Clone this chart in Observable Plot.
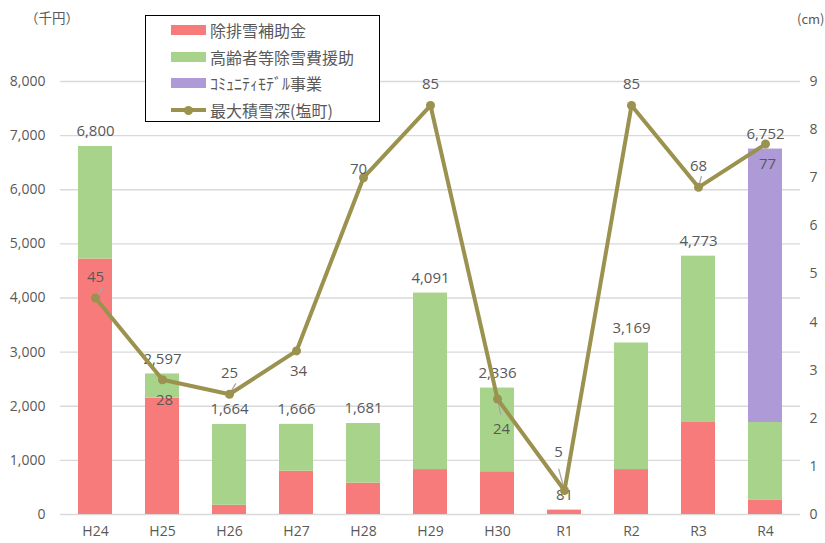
<!DOCTYPE html>
<html>
<head>
<meta charset="utf-8">
<script src="https://cdn.jsdelivr.net/npm/d3@7"></script>
<script src="https://cdn.jsdelivr.net/npm/@observablehq/plot@0.6"></script>
<style>
  body { margin: 0; background: #fff; }
  #wrap { position: relative; width: 825px; height: 543px; overflow: hidden; font-family: "Noto Sans CJK JP", sans-serif; color: #595959; }
  #chart { position: absolute; left: 0; top: 0; }
  .unit { position: absolute; font-size: 13.5px; color: #595959; line-height: 1; white-space: nowrap; }
  #legend { position: absolute; left: 145px; top: 15px; width: 235px; height: 107px; border: 1.5px solid #000; background: #fff; box-sizing: border-box; }
  .item { position: absolute; left: 25px; height: 22px; display: flex; align-items: center; font-size: 16px; color: #595959; white-space: nowrap; }
  .sw { width: 35px; height: 10px; margin-right: 4px; }
  .swl { width: 35px; height: 10px; margin-right: 4px; position: relative; }
  .swl .ln { position: absolute; left: 0; right: 0; top: 3px; height: 4px; }
  .swl .pt { position: absolute; left: 13px; top: 0.5px; width: 9px; height: 9px; border-radius: 50%; }
</style>
</head>
<body>
<div id="wrap">
  <div id="chart"></div>
  <div class="unit" style="left:25px;top:11px;">（千円）</div>
  <div class="unit" style="left:797px;top:12px;font-size:13px;">(cm)</div>
  <div id="legend"></div>
</div>
<script>
// ---- data ----
const years = ["H24", "H25", "H26", "H27", "H28", "H29", "H30", "R1", "R2", "R3", "R4"];
const seriesNames = ["除排雪補助金", "高齢者等除雪費援助", "ｺﾐｭﾆﾃｨﾓﾃﾞﾙ事業"];
const subsidy   = [4720, 2150, 170, 800, 580, 830, 790, 81, 830, 1700, 260];
const elderly   = [2080, 447, 1494, 866, 1101, 3261, 1546, 0, 2339, 3073, 1440];
const community = [0, 0, 0, 0, 0, 0, 0, 0, 0, 0, 5052];
const totals    = [6800, 2597, 1664, 1666, 1681, 4091, 2336, 81, 3169, 4773, 6752];
const lineName  = "最大積雪深(塩町)";
const snowDepth = [45, 28, 25, 34, 70, 85, 24, 5, 85, 68, 77];
const leftTicks  = [0, 1000, 2000, 3000, 4000, 5000, 6000, 7000, 8000];
const rightTicks = [0, 1, 2, 3, 4, 5, 6, 7, 8, 9];

// ---- styles ----
const barColors = ["#F87B7B", "#A7D48A", "#AE9AD6"];
const lineColor = "#9B924F";
const textColor = "#595959";

// right axis: 0..9 spans the same height as left 0..8000; snow depth label/10 on that axis
const leftMax = 8000, rightMax = 9;
const toLeft = r => r * leftMax / rightMax;

const bars = [];
[subsidy, elderly, community].forEach((arr, si) => {
  arr.forEach((v, i) => { if (v > 0) bars.push({year: years[i], series: seriesNames[si], value: v}); });
});
const totalData = years.map((y, i) => ({year: y, total: totals[i]}));
const snowData = years.map((y, i) => ({year: y, depth: snowDepth[i], yv: toLeft(snowDepth[i] / 10)}));

// label placement (layout only)
const placements = [
  {years: ["H24", "H26", "H29", "R2", "R3"], dx: 0, dy: -21},
  {years: ["H28"], dx: -5, dy: -9},
  {years: ["R1"], dx: -6, dy: -38},
  {years: ["H25", "H27", "R4"], dx: 2, dy: 20},
  {years: ["H30"], dx: 4, dy: 30}
];
// leader lines (layout only): length px, rotation degrees
const leaders = [
  {year: "H24", length: 13, rotate: 35},
  {year: "H26", length: 13, rotate: 30},
  {year: "H30", length: 17, rotate: 168},
  {year: "R1", length: 24, rotate: -15},
  {year: "R3", length: 12, rotate: 15}
];
const leaderData = leaders.map(l => ({...l, yv: snowData.find(d => d.year === l.year).yv}));
const lineShape = {draw(context, l) { context.moveTo(0, 0); context.lineTo(0, -l); }};

const lineLabelMarks = placements.map(p =>
  Plot.text(snowData.filter(d => p.years.includes(d.year)), {
    x: "year", y: "yv", text: d => String(d.depth),
    dx: p.dx, dy: p.dy, fontSize: 15, fill: textColor
  })
);

const chart = Plot.plot({
  width: 825,
  height: 543,
  marginTop: 81,
  marginBottom: 29,
  marginLeft: 60,
  marginRight: 25,
  style: {fontFamily: "'Open Sans', 'Noto Sans CJK JP', sans-serif", color: textColor, background: "transparent", overflow: "visible"},
  x: {domain: years, paddingInner: 0.5, paddingOuter: 0.25, label: null},
  y: {domain: [0, leftMax], label: null},
  color: {domain: seriesNames, range: barColors},
  marks: [
    Plot.ruleY(leftTicks, {stroke: "#d9d9d9", strokeWidth: 1.3}),
    Plot.barY(bars, {x: "year", y: "value", fill: "series"}),
    Plot.axisX({tickSize: 0, tickPadding: 12, fontSize: 14, label: null, fill: textColor}),
    Plot.axisY({ticks: leftTicks, tickFormat: d3.format(","), tickSize: 0, tickPadding: 15, fontSize: 14, label: null, fill: textColor}),
    Plot.axisY({anchor: "right", ticks: rightTicks.map(toLeft), tickFormat: d => String(Math.round(d * rightMax / leftMax)), tickSize: 0, tickPadding: 9, fontSize: 14, label: null, fill: textColor}),
    Plot.text(totalData, {x: "year", y: "total", text: d => d3.format(",")(d.total), dy: -15, fontSize: 15, fill: textColor}),
    Plot.vector(leaderData, {x: "year", y: "yv", length: "length", rotate: "rotate", anchor: "start", shape: lineShape, stroke: "#a6a6a6", strokeWidth: 1.3}),
    Plot.line(snowData, {x: "year", y: "yv", stroke: lineColor, strokeWidth: 4, strokeLinejoin: "round"}),
    Plot.dot(snowData, {x: "year", y: "yv", r: 4.5, fill: lineColor, stroke: null}),
    ...lineLabelMarks
  ]
});
document.getElementById("chart").appendChild(chart);

// legend
const legend = document.getElementById("legend");
const rowTops = [3, 30, 56, 83];
seriesNames.forEach((name, i) => {
  const it = document.createElement("div");
  it.className = "item";
  it.style.top = rowTops[i] + "px";
  it.innerHTML = `<div class="sw" style="background:${barColors[i]}"></div><span>${name}</span>`;
  legend.appendChild(it);
});
const li = document.createElement("div");
li.className = "item";
li.style.top = rowTops[3] + "px";
li.innerHTML = `<div class="swl"><div class="ln" style="background:${lineColor}"></div><div class="pt" style="background:${lineColor}"></div></div><span>${lineName}</span>`;
legend.appendChild(li);
</script>
</body>
</html>
